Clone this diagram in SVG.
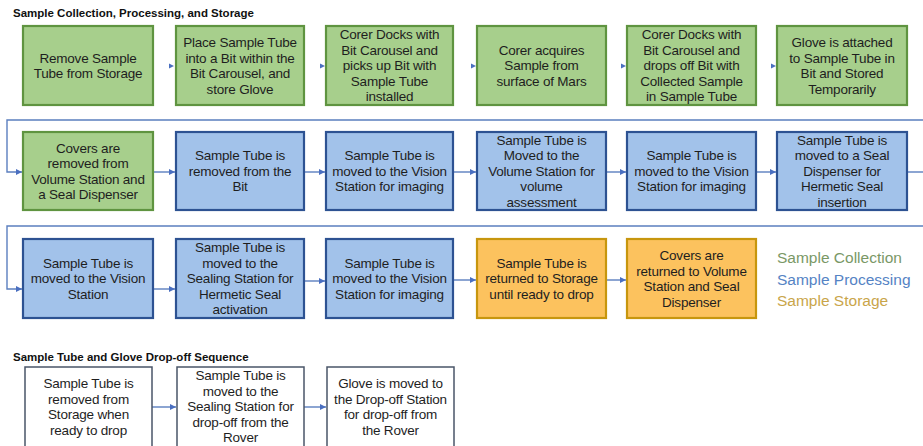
<svg xmlns="http://www.w3.org/2000/svg" width="923" height="446" viewBox="0 0 923 446">
<style>
.title{font-family:"Liberation Sans",Arial,sans-serif;font-weight:bold;font-size:11.5px;fill:#111}
.t{font-family:"Liberation Sans",Arial,sans-serif;font-size:13.5px;fill:#1e1e1e;text-anchor:middle;letter-spacing:-0.2px}
.g{fill:#a7cf8c;stroke:#5f9440;stroke-width:2.2}
.b{fill:#a2c2ea;stroke:#2d5292;stroke-width:2.2}
.o{fill:#fcc25e;stroke:#c7960e;stroke-width:2.2}
.w{fill:#ffffff;stroke:#4a5568;stroke-width:1.5}
.c{fill:none;stroke:#5b7fbf;stroke-width:1.4}
.ah{fill:#4a6fc0}
.leg{font-family:"Liberation Sans",Arial,sans-serif;font-size:15.5px}
</style>
<defs>
<marker id="arr" markerUnits="userSpaceOnUse" markerWidth="7" markerHeight="6" refX="6" refY="3" orient="auto">
<path d="M0,0 L6,3 L0,6 Z" fill="#4a6fc0"/>
</marker>
</defs>

<text class="title" x="13" y="17">Sample Collection, Processing, and Storage</text>
<text class="title" x="13" y="361">Sample Tube and Glove Drop-off Sequence</text>

<g id="connectors">
<polygon class="ah" points="169,63.5 174,66 169,68.5"/>
<polygon class="ah" points="320,63.5 325,66 320,68.5"/>
<polygon class="ah" points="471,63.5 476,66 471,68.5"/>
<polygon class="ah" points="621,63.5 626,66 621,68.5"/>
<polygon class="ah" points="771,63.5 776,66 771,68.5"/>
<path class="c" d="M923,120 H7 V172 H22" marker-end="url(#arr)"/>
<path class="c" d="M153,172 H175" marker-end="url(#arr)"/>
<path class="c" d="M304,172 H325" marker-end="url(#arr)"/>
<path class="c" d="M453,172 H476" marker-end="url(#arr)"/>
<path class="c" d="M606,172 H626" marker-end="url(#arr)"/>
<path class="c" d="M756,172 H776" marker-end="url(#arr)"/>
<path class="c" d="M907,172 H923"/>
<path class="c" d="M923,226 H7 V289 H22" marker-end="url(#arr)"/>
<path class="c" d="M153,289 H175" marker-end="url(#arr)"/>
<path class="c" d="M304,281 H325" marker-end="url(#arr)"/>
<path class="c" d="M453,280 H476" marker-end="url(#arr)"/>
<path class="c" d="M606,280 H626" marker-end="url(#arr)"/>
<path class="c" d="M152,407 H176" marker-end="url(#arr)"/>
<path class="c" d="M304,407 H326" marker-end="url(#arr)"/>
</g>

<!-- Row 1 -->
<g id="n1"><rect class="g" x="23" y="26" width="130" height="79"/>
<text class="t" x="88" y="62.5">Remove Sample<tspan x="88" dy="15.5">Tube from Storage</tspan></text></g>
<g id="n2"><rect class="g" x="176" y="26" width="128" height="79"/>
<text class="t" x="240" y="47">Place Sample Tube<tspan x="240" dy="15.5">into a Bit within the</tspan><tspan x="240" dy="15.5">Bit Carousel, and</tspan><tspan x="240" dy="15.5">store Glove</tspan></text></g>
<g id="n3"><rect class="g" x="326" y="26" width="127" height="79"/>
<text class="t" x="389.5" y="39.2">Corer Docks with<tspan x="389.5" dy="15.5">Bit Carousel and</tspan><tspan x="389.5" dy="15.5">picks up Bit with</tspan><tspan x="389.5" dy="15.5">Sample Tube</tspan><tspan x="389.5" dy="15.5">installed</tspan></text></g>
<g id="n4"><rect class="g" x="477" y="26" width="129" height="79"/>
<text class="t" x="541.5" y="54.7">Corer acquires<tspan x="541.5" dy="15.5">Sample from</tspan><tspan x="541.5" dy="15.5">surface of Mars</tspan></text></g>
<g id="n5"><rect class="g" x="627" y="26" width="129" height="79"/>
<text class="t" x="691.5" y="39.2">Corer Docks with<tspan x="691.5" dy="15.5">Bit Carousel and</tspan><tspan x="691.5" dy="15.5">drops off Bit with</tspan><tspan x="691.5" dy="15.5">Collected Sample</tspan><tspan x="691.5" dy="15.5">in Sample Tube</tspan></text></g>
<g id="n6"><rect class="g" x="777" y="26" width="130" height="79"/>
<text class="t" x="842" y="47">Glove is attached<tspan x="842" dy="15.5">to Sample Tube in</tspan><tspan x="842" dy="15.5">Bit and Stored</tspan><tspan x="842" dy="15.5">Temporarily</tspan></text></g>

<!-- Row 2 -->
<g id="n7"><rect class="g" x="23" y="132" width="130" height="78"/>
<text class="t" x="88" y="152.5">Covers are<tspan x="88" dy="15.5">removed from</tspan><tspan x="88" dy="15.5">Volume Station and</tspan><tspan x="88" dy="15.5">a Seal Dispenser</tspan></text></g>
<g id="n8"><rect class="b" x="176" y="132" width="128" height="78"/>
<text class="t" x="240" y="160.2">Sample Tube is<tspan x="240" dy="15.5">removed from the</tspan><tspan x="240" dy="15.5">Bit</tspan></text></g>
<g id="n9"><rect class="b" x="326" y="132" width="127" height="78"/>
<text class="t" x="389.5" y="160.2">Sample Tube is<tspan x="389.5" dy="15.5">moved to the Vision</tspan><tspan x="389.5" dy="15.5">Station for imaging</tspan></text></g>
<g id="n10"><rect class="b" x="477" y="132" width="129" height="78"/>
<text class="t" x="541.5" y="144.7">Sample Tube is<tspan x="541.5" dy="15.5">Moved to the</tspan><tspan x="541.5" dy="15.5">Volume Station for</tspan><tspan x="541.5" dy="15.5">volume</tspan><tspan x="541.5" dy="15.5">assessment</tspan></text></g>
<g id="n11"><rect class="b" x="627" y="132" width="129" height="78"/>
<text class="t" x="691.5" y="160.2">Sample Tube is<tspan x="691.5" dy="15.5">moved to the Vision</tspan><tspan x="691.5" dy="15.5">Station for imaging</tspan></text></g>
<g id="n12"><rect class="b" x="777" y="132" width="130" height="78"/>
<text class="t" x="842" y="144.7">Sample Tube is<tspan x="842" dy="15.5">moved to a Seal</tspan><tspan x="842" dy="15.5">Dispenser for</tspan><tspan x="842" dy="15.5">Hermetic Seal</tspan><tspan x="842" dy="15.5">insertion</tspan></text></g>

<!-- Row 3 -->
<g id="n13"><rect class="b" x="23" y="239" width="130" height="79"/>
<text class="t" x="88" y="267.7">Sample Tube is<tspan x="88" dy="15.5">moved to the Vision</tspan><tspan x="88" dy="15.5">Station</tspan></text></g>
<g id="n14"><rect class="b" x="176" y="239" width="128" height="79"/>
<text class="t" x="240" y="252.2">Sample Tube is<tspan x="240" dy="15.5">moved to the</tspan><tspan x="240" dy="15.5">Sealing Station for</tspan><tspan x="240" dy="15.5">Hermetic Seal</tspan><tspan x="240" dy="15.5">activation</tspan></text></g>
<g id="n15"><rect class="b" x="326" y="239" width="127" height="79"/>
<text class="t" x="389.5" y="267.7">Sample Tube is<tspan x="389.5" dy="15.5">moved to the Vision</tspan><tspan x="389.5" dy="15.5">Station for imaging</tspan></text></g>
<g id="n16"><rect class="o" x="477" y="239" width="129" height="79"/>
<text class="t" x="541.5" y="267.7">Sample Tube is<tspan x="541.5" dy="15.5">returned to Storage</tspan><tspan x="541.5" dy="15.5">until ready to drop</tspan></text></g>
<g id="n17"><rect class="o" x="627" y="239" width="129" height="79"/>
<text class="t" x="691.5" y="260">Covers are<tspan x="691.5" dy="15.5">returned to Volume</tspan><tspan x="691.5" dy="15.5">Station and Seal</tspan><tspan x="691.5" dy="15.5">Dispenser</tspan></text></g>

<g id="legend">
<text class="leg" x="777" y="263" fill="#7a9866">Sample Collection</text>
<text class="leg" x="777" y="284.5" fill="#5583c4">Sample Processing</text>
<text class="leg" x="777" y="305.5" fill="#c9a54a">Sample Storage</text>
</g>

<!-- Row 4 -->
<g id="n18"><rect class="w" x="25" y="367" width="127" height="82"/>
<text class="t" x="88.5" y="388">Sample Tube is<tspan x="88.5" dy="15.5">removed from</tspan><tspan x="88.5" dy="15.5">Storage when</tspan><tspan x="88.5" dy="15.5">ready to drop</tspan></text></g>
<g id="n19"><rect class="w" x="177" y="367" width="127" height="82"/>
<text class="t" x="240.5" y="380.2">Sample Tube is<tspan x="240.5" dy="15.5">moved to the</tspan><tspan x="240.5" dy="15.5">Sealing Station for</tspan><tspan x="240.5" dy="15.5">drop-off from the</tspan><tspan x="240.5" dy="15.5">Rover</tspan></text></g>
<g id="n20"><rect class="w" x="327" y="367" width="127" height="82"/>
<text class="t" x="390.5" y="388">Glove is moved to<tspan x="390.5" dy="15.5">the Drop-off Station</tspan><tspan x="390.5" dy="15.5">for drop-off from</tspan><tspan x="390.5" dy="15.5">the Rover</tspan></text></g>
</svg>
